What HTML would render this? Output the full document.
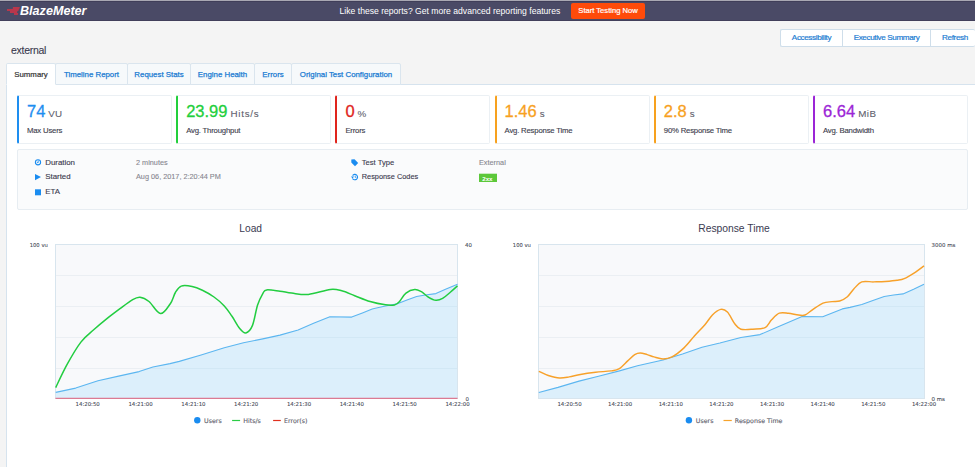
<!DOCTYPE html>
<html><head><meta charset="utf-8"><title>BlazeMeter Report</title>
<style>
*{box-sizing:border-box;margin:0;padding:0}
html,body{width:975px;height:467px;overflow:hidden;background:#f4f4f4;font-family:"Liberation Sans",Arial,sans-serif;position:relative}
.abs{position:absolute;white-space:nowrap}
#topline{position:absolute;left:0;top:0;width:975px;height:1px;background:#a9a8b3}
#hdr{position:absolute;left:0;top:1px;width:975px;height:20px;background:#4a4a66;border-top:1px solid #403e59;border-bottom:1px solid #423f5b}
#promo{left:339.6px;top:5px;font-size:8.6px;line-height:12px;color:#fff}
#cta{position:absolute;left:571px;top:3px;width:74px;height:16px;background:#ff4b0a;border-radius:2px;color:#fff;font-size:7.6px;line-height:16px;text-align:center;-webkit-text-stroke:0.2px #fff}
#title{left:11px;top:43.7px;font-size:10.5px;letter-spacing:-0.28px;line-height:12px;color:#3a3a4e;-webkit-text-stroke:0.1px #3a3a4e}
#btns{position:absolute;left:780px;top:29px;height:18px;width:195px;border-right:none !important;background:#fff;border:1px solid #cfdeea;border-radius:2px;display:flex;overflow:hidden}
#btns div{flex-shrink:0;height:100%;font-size:8.1px;letter-spacing:-0.37px;line-height:16.6px;-webkit-text-stroke:0.2px #1a7bd2;color:#1a7bd2;text-align:center;border-right:1px solid #cfdeea}
#tabs{position:absolute;left:6px;top:63px;height:22px}
#tabs div{position:absolute;top:0;height:22px;font-size:7.85px;line-height:21px;color:#1a7bd2;background:#f6f9fb;border:1px solid #dae5ee;text-align:center;-webkit-text-stroke:0.25px #1a7bd2;white-space:nowrap;border-radius:2px 2px 0 0}
#tabs div.act{background:#fff;color:#333;border-bottom-color:#fff;-webkit-text-stroke:0.2px #333;z-index:2}
#panel{position:absolute;left:6px;top:84px;width:969px;height:383px;background:#fff;border:1px solid #d6e3ee;border-right:none;border-bottom:none}
.card{position:absolute;top:95px;width:155px;height:49px;background:#fff;border:1px solid #ebf0f4;border-radius:2px;border-left:2px solid}
.card .val{position:absolute;left:8px;top:5px;white-space:nowrap;line-height:20px}
.card .num{font-size:16.5px;-webkit-text-stroke-width:0.3px}
.card .unit{font-size:9.8px;color:#5f5f6e;margin-left:3px;-webkit-text-stroke:0.1px #5f5f6e}
.card .lbl{position:absolute;left:8px;top:30.2px;font-size:7.75px;letter-spacing:-0.2px;line-height:10px;color:#3d3d4d;white-space:nowrap;-webkit-text-stroke:0.12px #3d3d4d}
#info{position:absolute;left:17px;top:149px;width:951px;height:61px;background:#fafbfc;border:1px solid #e7edf2;border-radius:2px}
.il{font-size:7.9px;line-height:10px;color:#3a3a4e;-webkit-text-stroke:0.12px #3a3a4e}
.iv{font-size:7.3px;line-height:10px;color:#86868f;-webkit-text-stroke:0.1px #86868f}
#charts{position:absolute;left:0;top:0}
</style></head><body>
<div id="topline"></div>
<div id="hdr"></div>
<svg class="abs" style="left:0;top:0" width="22" height="21" viewBox="0 0 22 21">
<polygon points="13,7 19.9,7 19.2,9 19,9 18.3,11 17.4,11 17,13 18.2,13 17.8,15 14,15 14,13 10,13 10,11 7,11 7,9 12.7,9" fill="#b8374c"/>
</svg>
<div class="abs" style="left:20px;top:3px;font-size:12.6px;line-height:16px;font-weight:bold;font-style:italic;color:#fff">BlazeMeter</div>
<div class="abs" id="promo">Like these reports? Get more advanced reporting features</div>
<div id="cta">Start Testing Now</div>
<div class="abs" id="title">external</div>
<div id="btns"><div style="width:62px">Accessibility</div><div style="width:88px">Executive Summary</div><div style="width:48px;border-right:none">Refresh</div></div>
<div id="panel"></div>
<div id="tabs"><div class="act" style="left:0px;width:50px">Summary</div><div class="" style="left:49px;width:73px">Timeline Report</div><div class="" style="left:121px;width:64px">Request Stats</div><div class="" style="left:184px;width:65px">Engine Health</div><div class="" style="left:248px;width:38px">Errors</div><div class="" style="left:285px;width:110px">Original Test Configuration</div></div>
<div class="card" style="left:17.0px;border-left-color:#1e8ef0"><div class="val"><span class="num" style="color:#1e8ef0">74</span><span class="unit">VU</span></div><div class="lbl">Max Users</div></div>
<div class="card" style="left:176.2px;border-left-color:#22cf3c"><div class="val"><span class="num" style="color:#22cf3c">23.99</span><span class="unit"><span style='letter-spacing:0.75px'>Hits/s</span></span></div><div class="lbl">Avg. Throughput</div></div>
<div class="card" style="left:335.4px;border-left-color:#e0251d"><div class="val"><span class="num" style="color:#e0251d">0</span><span class="unit">%</span></div><div class="lbl">Errors</div></div>
<div class="card" style="left:494.6px;border-left-color:#f7a11e"><div class="val"><span class="num" style="color:#f7a11e">1.46</span><span class="unit">s</span></div><div class="lbl">Avg. Response Time</div></div>
<div class="card" style="left:653.8px;border-left-color:#f7a11e"><div class="val"><span class="num" style="color:#f7a11e">2.8</span><span class="unit">s</span></div><div class="lbl">90% Response Time</div></div>
<div class="card" style="left:813.0px;border-left-color:#9b25d6"><div class="val"><span class="num" style="color:#9b25d6">6.64</span><span class="unit"><span style='letter-spacing:0.5px'>MiB</span></span></div><div class="lbl">Avg. Bandwidth</div></div>
<div id="info"></div>
<svg class="abs" style="left:0;top:0" width="975" height="467" viewBox="0 0 975 467">
<!-- info icons -->
<circle cx="38" cy="162.3" r="2.6" fill="none" stroke="#1a8cf0" stroke-width="1.1"/>
<path d="M38.2,160.5 V162.6 H36.9" fill="none" stroke="#1a8cf0" stroke-width="0.85"/>
<polygon points="35,174 41,177.1 35,180.2" fill="#1a8cf0"/>
<rect x="35" y="189.3" width="6" height="6" fill="#1a8cf0"/>
<path d="M351.3,159.5 L354.5,159.3 L358.2,163 L355,166.2 L351.3,162.5 Z" fill="#1a8cf0"/>
<path d="M352.6,175.6 A2.7,2.7 0 1 1 352.5,178.4" fill="none" stroke="#1a8cf0" stroke-width="1.1"/><polygon points="351,176.6 354.1,176.6 352.5,178.4" fill="#1a8cf0"/><path d="M355.2,175.7 V177.3 H356.4" fill="none" stroke="#1a8cf0" stroke-width="0.8"/>
<rect x="479" y="173.7" width="18" height="8.3" fill="#5cc83a"/>
<text x="482.2" y="180.5" font-size="6.2" font-weight="bold" fill="#fff" font-family="Liberation Sans, sans-serif">2xx</text>
<rect x="55.5" y="244.5" width="402.0" height="154.0" fill="#f8f9fb"/>
<line x1="56.0" y1="275.5" x2="457.0" y2="275.5" stroke="#ebeff3" stroke-width="1"/>
<line x1="56.0" y1="306.5" x2="457.0" y2="306.5" stroke="#ebeff3" stroke-width="1"/>
<line x1="56.0" y1="337.5" x2="457.0" y2="337.5" stroke="#ebeff3" stroke-width="1"/>
<line x1="56.0" y1="368.5" x2="457.0" y2="368.5" stroke="#ebeff3" stroke-width="1"/>
<rect x="538.5" y="244.5" width="386.0" height="154.0" fill="#f8f9fb"/>
<line x1="539.0" y1="275.5" x2="924.0" y2="275.5" stroke="#ebeff3" stroke-width="1"/>
<line x1="539.0" y1="306.5" x2="924.0" y2="306.5" stroke="#ebeff3" stroke-width="1"/>
<line x1="539.0" y1="337.5" x2="924.0" y2="337.5" stroke="#ebeff3" stroke-width="1"/>
<line x1="539.0" y1="368.5" x2="924.0" y2="368.5" stroke="#ebeff3" stroke-width="1"/>
<path d="M55.7,392.4 L75.7,388.1 L98.0,380.7 L118.6,376.1 L139.1,371.6 L152.9,367.0 L170.0,363.6 L179.3,361.4 L201.1,355.0 L224.3,347.7 L243.5,342.8 L262.8,338.9 L280.0,335.1 L298.1,330.0 L313.6,323.3 L329.9,316.8 L351.7,317.1 L362.4,312.9 L372.2,309.0 L375.3,308.2 L385.5,306.0 L397.3,303.7 L407.0,299.9 L416.6,296.5 L425.3,295.0 L435.9,293.6 L445.5,289.3 L457.5,284.3 L457.5,398.5 L55.7,398.5 Z" fill="rgb(136,213,251)" fill-opacity="0.25"/>
<path d="M538.8,392.5 L558.0,387.4 L579.0,381.1 L598.5,376.2 L619.4,370.9 L637.5,365.8 L653.0,362.3 L663.0,360.0 L682.5,353.9 L702.0,347.2 L719.9,343.0 L740.9,337.5 L760.0,334.6 L779.3,326.3 L802.1,316.5 L822.7,316.7 L842.3,308.9 L850.0,307.4 L861.8,304.5 L873.6,300.3 L884.2,296.5 L893.6,295.0 L903.0,293.9 L913.6,289.2 L924.0,284.2 L924.0,398.5 L538.8,398.5 Z" fill="rgb(136,213,251)" fill-opacity="0.25"/>
<rect x="55.5" y="244.5" width="402.0" height="154.0" fill="none" stroke="#d8e5ee" stroke-width="1"/>
<rect x="538.5" y="244.5" width="386.0" height="154.0" fill="none" stroke="#d8e5ee" stroke-width="1"/>
<path d="M55.7,392.4 L75.7,388.1 L98.0,380.7 L118.6,376.1 L139.1,371.6 L152.9,367.0 L170.0,363.6 L179.3,361.4 L201.1,355.0 L224.3,347.7 L243.5,342.8 L262.8,338.9 L280.0,335.1 L298.1,330.0 L313.6,323.3 L329.9,316.8 L351.7,317.1 L362.4,312.9 L372.2,309.0 L375.3,308.2 L385.5,306.0 L397.3,303.7 L407.0,299.9 L416.6,296.5 L425.3,295.0 L435.9,293.6 L445.5,289.3 L457.5,284.3" fill="none" stroke="#5cb6f0" stroke-width="1.1" stroke-linejoin="round"/>
<path d="M538.8,392.5 L558.0,387.4 L579.0,381.1 L598.5,376.2 L619.4,370.9 L637.5,365.8 L653.0,362.3 L663.0,360.0 L682.5,353.9 L702.0,347.2 L719.9,343.0 L740.9,337.5 L760.0,334.6 L779.3,326.3 L802.1,316.5 L822.7,316.7 L842.3,308.9 L850.0,307.4 L861.8,304.5 L873.6,300.3 L884.2,296.5 L893.6,295.0 L903.0,293.9 L913.6,289.2 L924.0,284.2" fill="none" stroke="#5cb6f0" stroke-width="1.1" stroke-linejoin="round"/>
<path d="M55.7,387.6 C57.6,383.7 62.9,372.0 67.1,364.4 C71.3,356.8 76.5,347.9 80.9,342.1 C85.3,336.3 89.4,333.7 93.7,329.8 C98.0,325.9 102.2,322.3 106.6,318.8 C111.0,315.3 115.7,311.8 120.0,308.6 C124.3,305.4 129.0,301.7 132.3,299.8 C135.6,297.9 137.2,296.9 140.0,297.2 C142.8,297.5 145.6,298.8 149.0,301.5 C152.4,304.2 156.9,313.2 160.5,313.6 C164.1,314.0 167.8,307.2 170.3,303.7 C172.8,300.2 173.6,295.4 175.4,292.5 C177.2,289.6 178.4,287.1 181.2,286.1 C184.0,285.1 188.6,285.8 192.1,286.5 C195.6,287.2 198.8,288.6 202.4,290.3 C206.1,292.1 210.3,294.4 214.0,297.0 C217.7,299.6 221.3,302.8 224.3,306.0 C227.3,309.2 229.4,312.6 232.0,316.3 C234.6,320.1 237.4,325.7 239.7,328.5 C242.0,331.3 243.8,333.4 245.9,332.9 C248.0,332.4 250.6,330.0 252.5,325.4 C254.4,320.8 255.8,310.5 257.5,305.2 C259.2,299.9 261.3,296.2 262.8,293.6 C264.3,291.1 263.8,290.3 266.7,289.9 C269.6,289.5 275.8,290.7 280.0,291.2 C284.2,291.7 287.0,292.6 291.7,293.1 C296.4,293.6 302.0,295.0 308.4,294.4 C314.8,293.8 324.7,290.1 330.3,289.5 C335.9,288.9 337.7,289.8 341.8,290.8 C345.9,291.8 350.0,293.9 354.7,295.7 C359.4,297.5 365.0,300.0 370.1,301.5 C375.2,303.0 381.4,304.2 385.5,304.8 C389.6,305.4 392.2,305.4 394.5,304.9 C396.8,304.4 397.4,303.8 399.3,301.8 C401.2,299.8 403.4,295.1 406.0,293.1 C408.6,291.1 412.1,289.8 414.7,289.6 C417.3,289.4 419.1,290.5 421.4,291.7 C423.6,292.9 425.8,295.6 428.2,297.0 C430.6,298.4 433.5,300.1 435.9,300.3 C438.3,300.5 440.2,299.8 442.6,298.4 C445.0,297.0 447.8,294.3 450.3,292.2 C452.8,290.1 456.3,286.9 457.5,285.9" fill="none" stroke="#22cd40" stroke-width="1.5"/>
<path d="M538.8,371.3 C540.4,372.0 544.8,374.4 548.3,375.5 C551.8,376.6 556.0,377.8 559.5,378.0 C563.0,378.2 565.7,377.5 569.2,376.9 C572.7,376.3 576.0,375.3 580.4,374.5 C584.8,373.7 590.6,372.9 595.7,372.3 C600.8,371.7 607.0,371.5 611.0,370.9 C615.0,370.3 616.6,370.3 619.4,368.6 C622.2,366.9 625.2,363.2 627.7,360.9 C630.2,358.6 632.6,355.9 634.7,354.6 C636.8,353.3 638.1,353.0 640.2,353.0 C642.3,353.0 644.9,354.0 647.2,354.6 C649.5,355.2 651.4,356.2 654.0,356.9 C656.6,357.6 660.0,358.9 663.0,358.9 C666.0,358.9 668.5,358.7 672.0,356.9 C675.5,355.1 680.3,351.4 684.0,347.9 C687.7,344.4 690.9,339.9 694.4,336.0 C697.9,332.1 701.9,328.2 704.9,324.7 C707.9,321.2 709.8,317.6 712.4,315.0 C715.0,312.4 718.2,309.9 720.7,309.4 C723.2,308.9 725.0,309.6 727.4,312.0 C729.8,314.4 732.6,321.1 734.9,324.0 C737.1,326.9 737.9,328.3 740.9,329.2 C743.9,330.1 748.9,329.5 752.9,329.2 C756.9,328.9 762.0,329.2 765.1,327.6 C768.2,326.0 769.2,322.2 771.6,319.8 C774.0,317.4 776.5,314.3 779.3,313.2 C782.1,312.1 785.1,312.9 788.3,313.2 C791.5,313.5 795.8,314.7 798.6,315.0 C801.4,315.3 802.6,315.9 805.0,315.0 C807.4,314.1 809.7,311.6 812.7,309.6 C815.7,307.6 819.8,304.4 823.0,303.1 C826.2,301.8 829.2,302.0 832.0,301.6 C834.8,301.2 837.1,301.8 839.7,301.0 C842.3,300.2 845.0,298.7 847.4,296.7 C849.8,294.7 851.4,291.5 853.8,289.0 C856.2,286.5 858.5,283.1 861.8,281.9 C865.1,280.7 869.7,282.0 873.6,281.9 C877.5,281.8 881.4,281.8 885.3,281.5 C889.2,281.2 894.0,280.8 897.1,280.3 C900.2,279.8 901.5,279.8 904.2,278.6 C907.0,277.4 910.3,275.4 913.6,273.3 C916.9,271.2 922.3,267.1 924.0,265.8" fill="none" stroke="#f7a12a" stroke-width="1.45"/>
<line x1="55.5" y1="398.3" x2="457.5" y2="398.3" stroke="#dc7a92" stroke-width="1.2"/>
<text x="87.7" y="406.2" font-size="5.4" text-anchor="middle" font-family="DejaVu Sans, sans-serif" fill="#434854" stroke="#434854" stroke-width="0.08">14:20:50</text>
<text x="569.5" y="406.2" font-size="5.4" text-anchor="middle" font-family="DejaVu Sans, sans-serif" fill="#434854" stroke="#434854" stroke-width="0.08">14:20:50</text>
<text x="140.5" y="406.2" font-size="5.4" text-anchor="middle" font-family="DejaVu Sans, sans-serif" fill="#434854" stroke="#434854" stroke-width="0.08">14:21:00</text>
<text x="620.1" y="406.2" font-size="5.4" text-anchor="middle" font-family="DejaVu Sans, sans-serif" fill="#434854" stroke="#434854" stroke-width="0.08">14:21:00</text>
<text x="193.4" y="406.2" font-size="5.4" text-anchor="middle" font-family="DejaVu Sans, sans-serif" fill="#434854" stroke="#434854" stroke-width="0.08">14:21:10</text>
<text x="670.8" y="406.2" font-size="5.4" text-anchor="middle" font-family="DejaVu Sans, sans-serif" fill="#434854" stroke="#434854" stroke-width="0.08">14:21:10</text>
<text x="246.2" y="406.2" font-size="5.4" text-anchor="middle" font-family="DejaVu Sans, sans-serif" fill="#434854" stroke="#434854" stroke-width="0.08">14:21:20</text>
<text x="721.4" y="406.2" font-size="5.4" text-anchor="middle" font-family="DejaVu Sans, sans-serif" fill="#434854" stroke="#434854" stroke-width="0.08">14:21:20</text>
<text x="299.0" y="406.2" font-size="5.4" text-anchor="middle" font-family="DejaVu Sans, sans-serif" fill="#434854" stroke="#434854" stroke-width="0.08">14:21:30</text>
<text x="772.1" y="406.2" font-size="5.4" text-anchor="middle" font-family="DejaVu Sans, sans-serif" fill="#434854" stroke="#434854" stroke-width="0.08">14:21:30</text>
<text x="351.8" y="406.2" font-size="5.4" text-anchor="middle" font-family="DejaVu Sans, sans-serif" fill="#434854" stroke="#434854" stroke-width="0.08">14:21:40</text>
<text x="822.7" y="406.2" font-size="5.4" text-anchor="middle" font-family="DejaVu Sans, sans-serif" fill="#434854" stroke="#434854" stroke-width="0.08">14:21:40</text>
<text x="404.7" y="406.2" font-size="5.4" text-anchor="middle" font-family="DejaVu Sans, sans-serif" fill="#434854" stroke="#434854" stroke-width="0.08">14:21:50</text>
<text x="873.3" y="406.2" font-size="5.4" text-anchor="middle" font-family="DejaVu Sans, sans-serif" fill="#434854" stroke="#434854" stroke-width="0.08">14:21:50</text>
<text x="457.5" y="406.2" font-size="5.4" text-anchor="middle" font-family="DejaVu Sans, sans-serif" fill="#434854" stroke="#434854" stroke-width="0.08">14:22:00</text>
<text x="924.0" y="406.2" font-size="5.4" text-anchor="middle" font-family="DejaVu Sans, sans-serif" fill="#434854" stroke="#434854" stroke-width="0.08">14:22:00</text>
<text x="29.7" y="246.9" font-size="5.25" font-family="DejaVu Sans, sans-serif" fill="#434854" stroke="#434854" stroke-width="0.08">100 vu</text>
<text x="512.8" y="246.9" font-size="5.25" font-family="DejaVu Sans, sans-serif" fill="#434854" stroke="#434854" stroke-width="0.08">100 vu</text>
<text x="465" y="246.9" font-size="5.4" font-family="DejaVu Sans, sans-serif" fill="#434854" stroke="#434854" stroke-width="0.08">40</text>
<text x="465.4" y="400.9" font-size="5.4" font-family="DejaVu Sans, sans-serif" fill="#434854" stroke="#434854" stroke-width="0.08">0</text>
<text x="931.6" y="246.9" font-size="5.45" font-family="DejaVu Sans, sans-serif" fill="#434854" stroke="#434854" stroke-width="0.08">3000 ms</text>
<text x="931.6" y="400.9" font-size="5.45" font-family="DejaVu Sans, sans-serif" fill="#434854" stroke="#434854" stroke-width="0.08">0 ms</text>
<text x="250.7" y="232.2" font-size="10.2" text-anchor="middle" font-family="Liberation Sans, sans-serif" fill="#3b3b52">Load</text>
<text x="734" y="232.1" font-size="10.3" text-anchor="middle" font-family="Liberation Sans, sans-serif" fill="#3b3b52">Response Time</text>
<circle cx="197.3" cy="420.3" r="3.2" fill="#1a8cf0"/>
<text x="204.1" y="422.6" font-family="DejaVu Sans, sans-serif" fill="#5d5d6b" font-size="6.3" stroke="#5d5d6b" stroke-width="0.12">Users</text>
<line x1="232.1" y1="420.5" x2="240.1" y2="420.5" stroke="#2bcc46" stroke-width="1.2"/>
<text x="243.2" y="422.6" font-family="DejaVu Sans, sans-serif" fill="#5d5d6b" font-size="6.3" stroke="#5d5d6b" stroke-width="0.12">Hits/s</text>
<line x1="273.1" y1="420.5" x2="280.8" y2="420.5" stroke="#e0301e" stroke-width="1.2"/>
<text x="284" y="422.6" font-family="DejaVu Sans, sans-serif" fill="#5d5d6b" font-size="6.3" stroke="#5d5d6b" stroke-width="0.12">Error(s)</text>
<circle cx="688.9" cy="420.3" r="3.2" fill="#1a8cf0"/>
<text x="695.8" y="422.6" font-family="DejaVu Sans, sans-serif" fill="#5d5d6b" font-size="6.3" stroke="#5d5d6b" stroke-width="0.12">Users</text>
<line x1="723.5" y1="420.5" x2="731.8" y2="420.5" stroke="#f6a32c" stroke-width="1.2"/>
<text x="734.8" y="422.6" font-family="DejaVu Sans, sans-serif" fill="#5d5d6b" font-size="6.3" stroke="#5d5d6b" stroke-width="0.12">Response Time</text>
</svg>
<div class="abs il" style="left:45.2px;top:157.7px">Duration</div>
<div class="abs il" style="left:45.2px;top:172.4px">Started</div>
<div class="abs il" style="left:45.2px;top:187.3px">ETA</div>
<div class="abs iv" style="left:136px;top:157.7px">2 minutes</div>
<div class="abs iv" style="left:136px;top:172.4px">Aug 06, 2017, 2:20:44 PM</div>
<div class="abs il" style="left:361.8px;top:157.7px;font-size:7.6px">Test Type</div>
<div class="abs il" style="left:361.8px;top:172.4px;font-size:7.35px">Response Codes</div>
<div class="abs iv" style="left:479px;top:157.7px">External</div>
</body></html>
